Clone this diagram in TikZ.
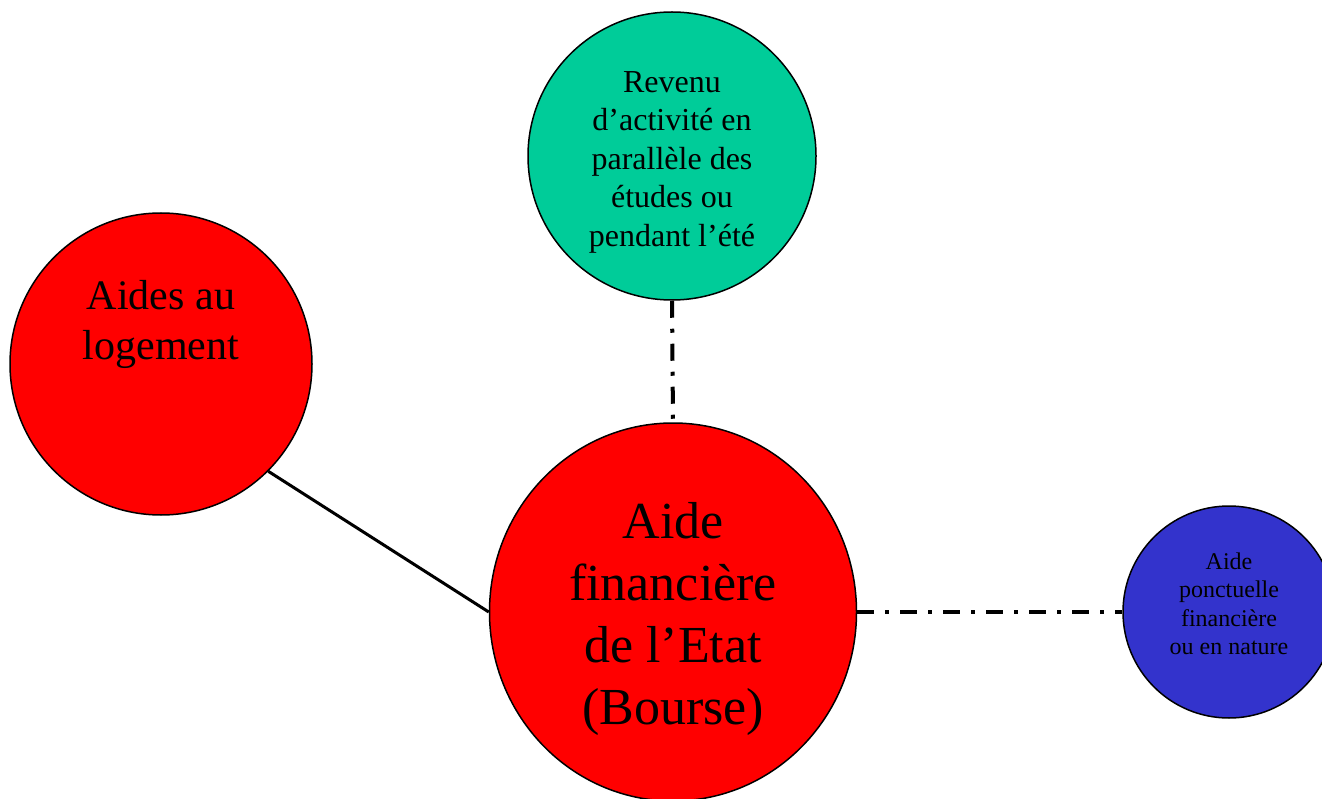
\documentclass[tikz,border=0pt]{standalone}
\usepackage{fontspec}
\usetikzlibrary{shapes.geometric}
\setmainfont{Liberation Serif}
\definecolor{cgreen}{HTML}{00CC99}
\definecolor{cred}{HTML}{FF0000}
\definecolor{cblue}{HTML}{3333CC}
\begin{document}
\begin{tikzpicture}[x=1pt,y=-1pt,
  bubble/.style={circle,draw=black,line width=1.5pt,inner sep=0pt},
  txt/.style={align=center,inner sep=0pt,text=black},
  dashdot/.style={line width=4pt,dash pattern=on 17pt off 11pt on 4pt off 11pt}]
\useasboundingbox (0,0) rectangle (1322,799);
\node[bubble,fill=cgreen,minimum size=288pt] (rev) at (672,156) {};
\node[bubble,fill=cred,minimum size=302pt] (log) at (161,364) {};
\node[ellipse,draw=black,line width=1.5pt,inner sep=0pt,fill=cred,minimum width=367pt,minimum height=378pt] (bourse) at (673,612) {};
\node[bubble,fill=cblue,minimum size=212pt] (ponct) at (1229,612) {};
\node[txt,font=\fontsize{32}{38.5}\selectfont] (revt) at (672,162) {Revenu\\d’activité en\\parallèle des\\études ou\\pendant l’été};
\node[txt,font=\fontsize{42}{50}\selectfont] (logt) at (161,324) {Aides au\\logement};
\node[txt,font=\fontsize{52}{62}\selectfont] (boursett) at (673,619) {Aide\\financière\\de l’Etat\\(Bourse)};
\node[txt,font=\fontsize{24}{28.5}\selectfont] (ponctt) at (1229,604) {Aide\\ponctuelle\\financière\\ou en nature};
\draw[line width=3pt] (log.south east) -- (bourse.west);
\draw[dashdot] (rev.south) -- (bourse.north);
\draw[dashdot] (bourse.east) -- (ponct.west);
\end{tikzpicture}
\end{document}
